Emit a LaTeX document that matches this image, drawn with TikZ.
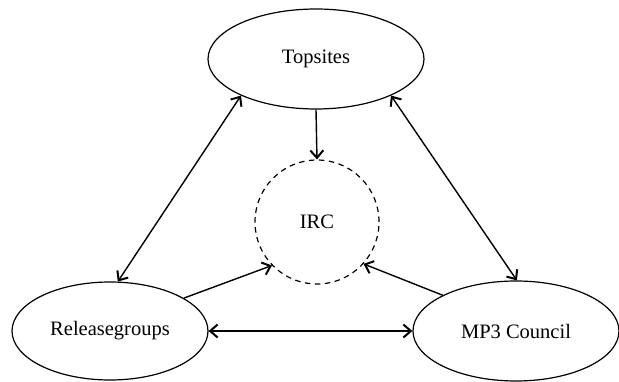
\documentclass[tikz,border=0pt]{standalone}
\usepackage{fontspec}
\setmainfont{Liberation Serif}
\usetikzlibrary{shapes.geometric,arrows.meta}
\begin{document}
\begin{tikzpicture}[x=1pt,y=1pt,
  actor/.style={draw, ellipse, line width=1.2pt, inner sep=0pt, font=\fontsize{20.5}{24}\selectfont},
  hub/.style={draw, circle, dashed, dash pattern=on 5.5pt off 4.5pt, line width=1.2pt, inner sep=0pt, minimum size=124pt, font=\fontsize{20.5}{24}\selectfont},
  link/.style={line width=1.4pt},
  tip/.style={-{Straight Barb[length=7.5pt,width=13pt,line width=2pt]}},
  both/.style={{Straight Barb[length=7.5pt,width=13pt,line width=2pt]}-{Straight Barb[length=7.5pt,width=13pt,line width=2pt]}}]
\useasboundingbox (0,0) rectangle (619,381);
\node[actor, minimum width=216pt, minimum height=100pt] (top) at (316,322) {Topsites};
\node[hub] (irc) at (317,159) {IRC};
\node[actor, minimum width=196pt, minimum height=98pt] (rel) at (110,50) {Releasegroups};
\node[actor, minimum width=206pt, minimum height=100pt] (mp3) at (516,50) {MP3 Council};
\draw[link, tip] (top.south) -- (irc.north);
\draw[link, both] (rel.81) -- (top.206);
\draw[link, both] (mp3.89) -- (top.334);
\draw[link, tip] (rel.24) -- (irc.224);
\draw[link, tip] (mp3.154) -- (irc.318);
\draw[link, both] (rel.east) -- (mp3.west);
\end{tikzpicture}
\end{document}
